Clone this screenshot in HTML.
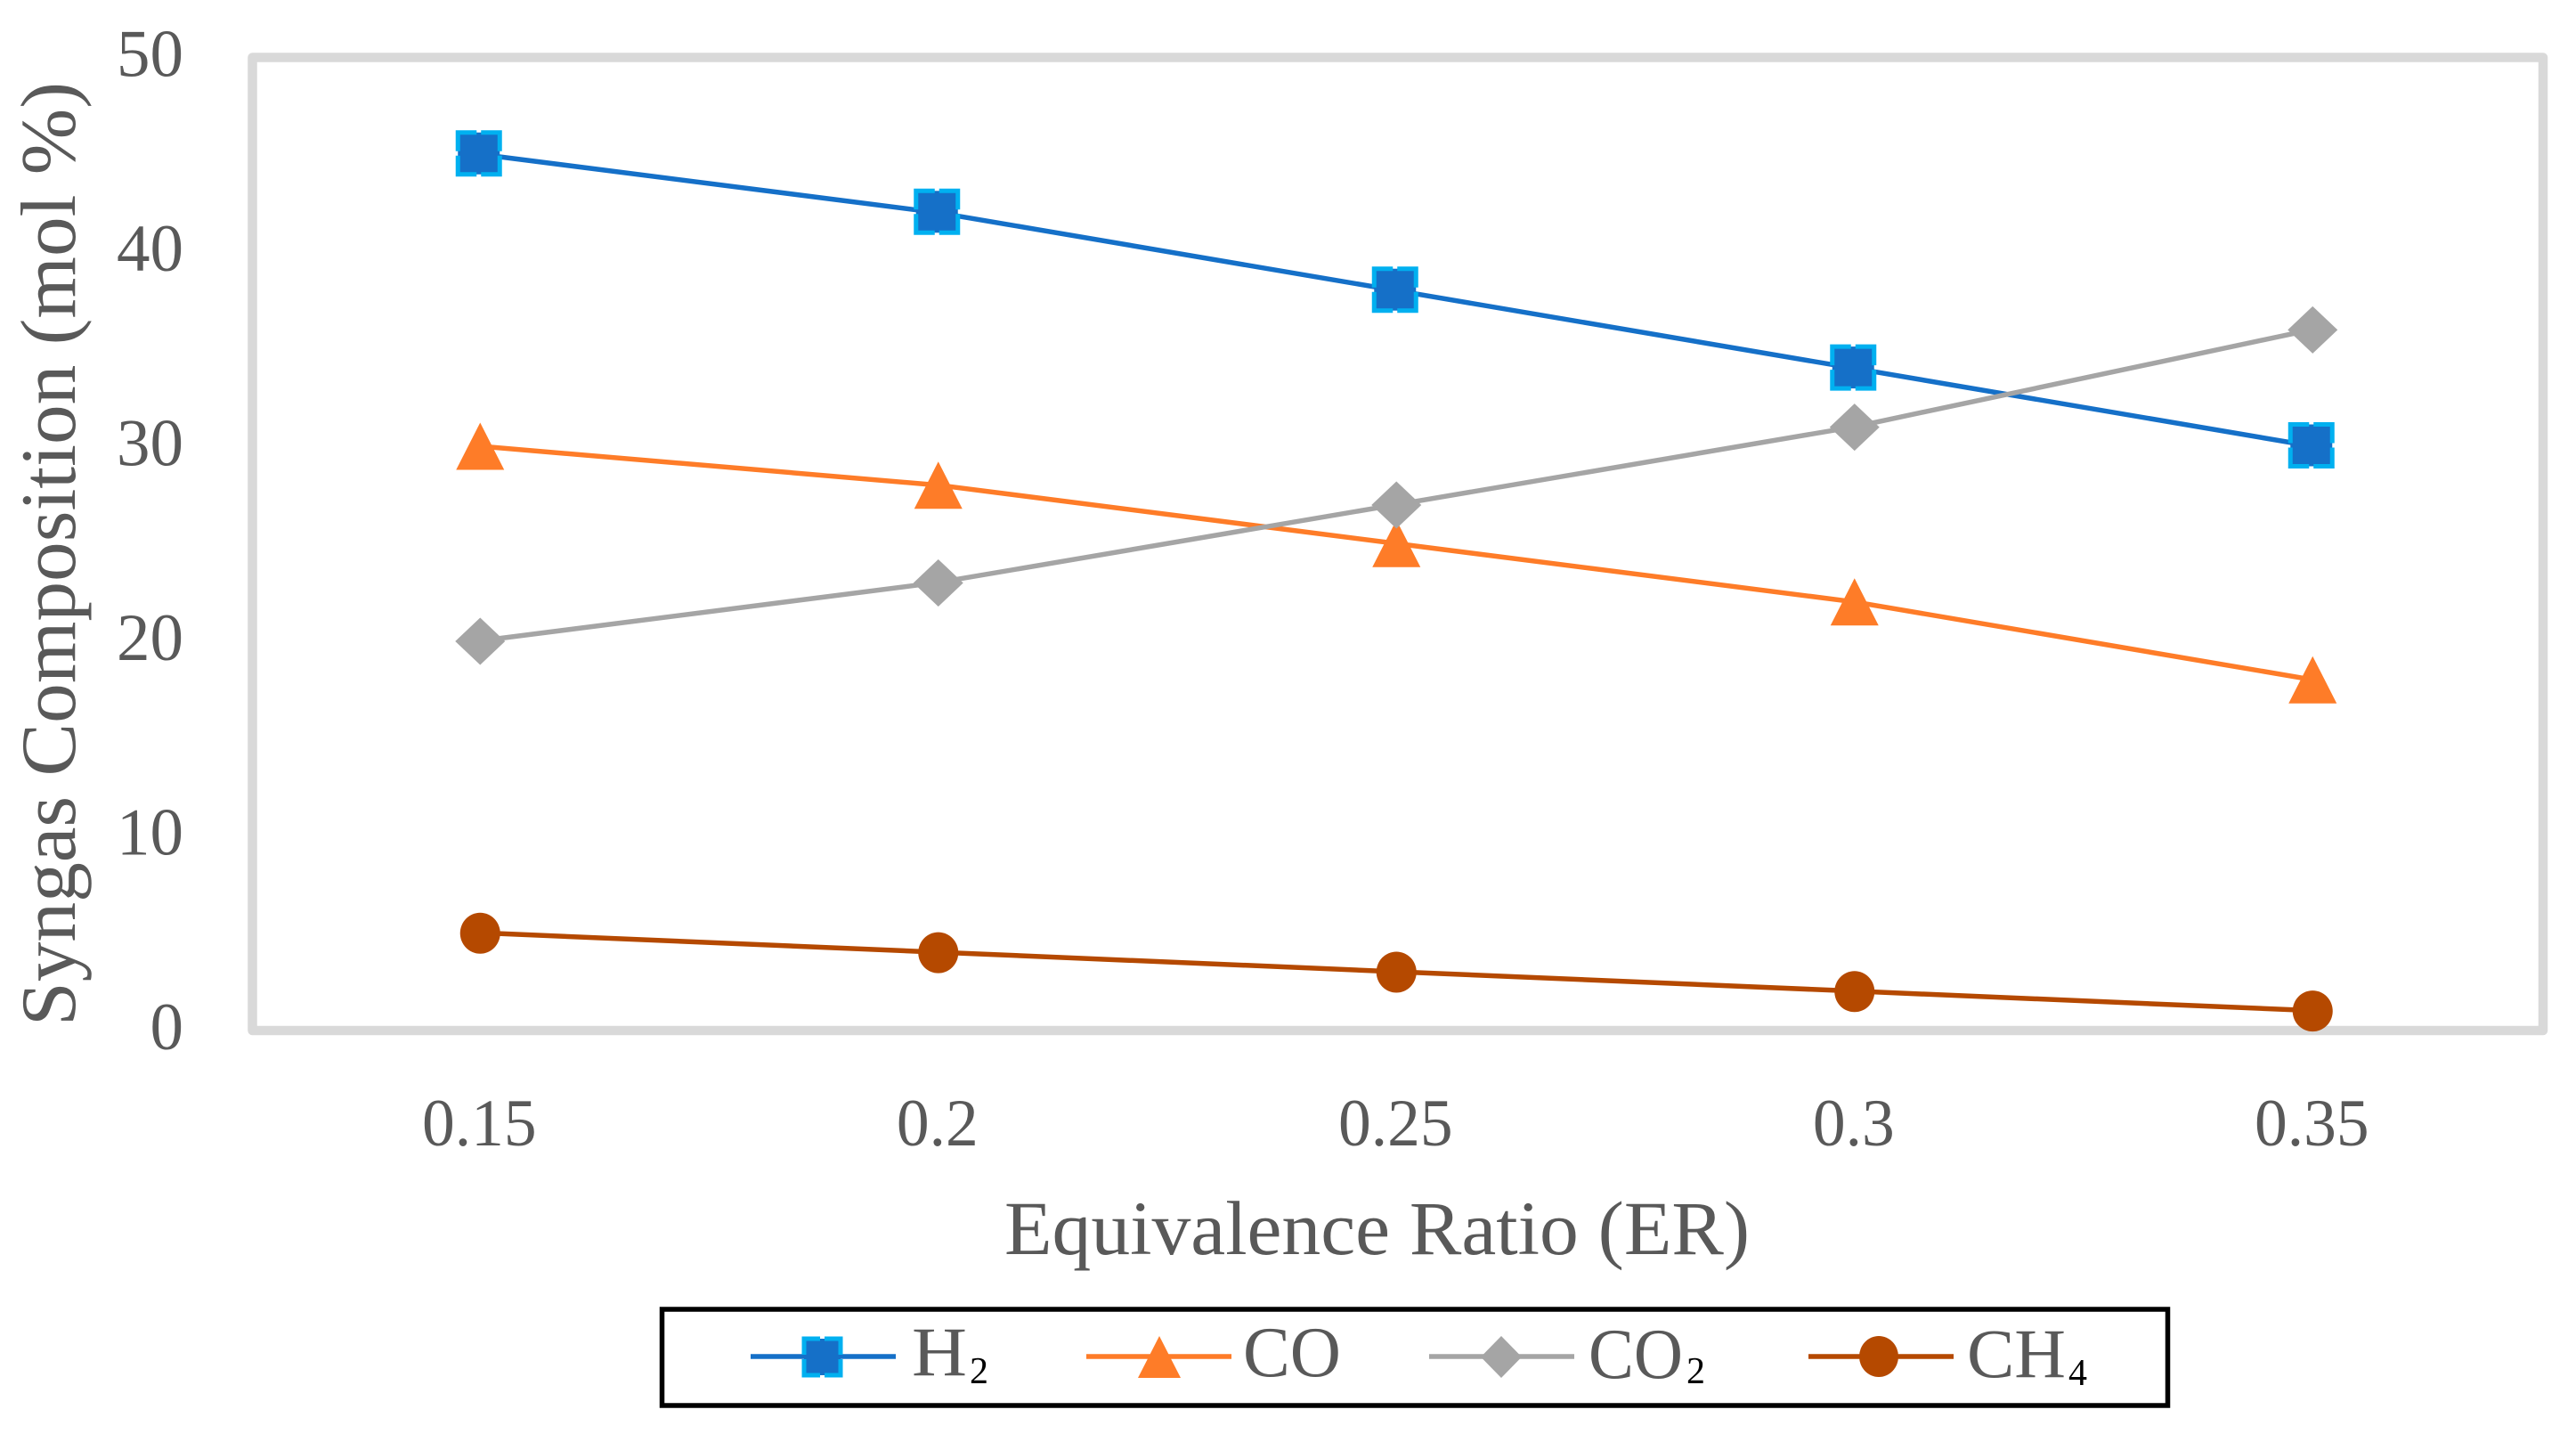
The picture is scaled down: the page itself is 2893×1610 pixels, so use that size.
<!DOCTYPE html>
<html lang="en">
<head>
<meta charset="utf-8">
<title>Syngas Composition vs Equivalence Ratio</title>
<style>
html,body{margin:0;padding:0;background:#fff;width:2893px;height:1610px;overflow:hidden}
svg{display:block}
text{font-family:"Liberation Serif",serif;fill:#595959}
</style>
</head>
<body>
<svg id="chart" xmlns="http://www.w3.org/2000/svg" width="2893" height="1610" viewBox="0 0 2893 1610">
  <rect x="283.5" y="64.5" width="2572.5" height="1092.5" fill="#fff" stroke="#d9d9d9" stroke-width="10.5" stroke-linejoin="round"/>
  <g id="y-ticks"></g>
  <g id="x-ticks"></g>
  <g id="series"></g>
  <text transform="translate(84,1152) rotate(-90)" font-size="88" textLength="1060" lengthAdjust="spacingAndGlyphs">Syngas Composition (mol %)</text>
  <text x="1128" y="1408" font-size="86" textLength="837" lengthAdjust="spacingAndGlyphs">Equivalence Ratio (ER)</text>
  <g>
    <rect x="743.5" y="1470" width="1691" height="108" fill="#fff" stroke="#000" stroke-width="5.5"/>
    <g>
      <line x1="843" y1="1523" x2="1006" y2="1523" stroke="#1570c8" stroke-width="5.5"/>
      <rect x="903" y="1503" width="41" height="41" fill="#1570c8" stroke="#00b0f0" stroke-width="5" stroke-dasharray="36 5" stroke-dashoffset="18"/>
      <text x="1024" y="1544" font-size="78" textLength="62" lengthAdjust="spacingAndGlyphs">H</text>
      <text x="1089" y="1553" font-size="42" style="fill:#000">2</text>
    </g>
    <g>
      <line x1="1220" y1="1523" x2="1383" y2="1523" stroke="#fe7c28" stroke-width="5.5"/>
      <polygon points="1302,1500 1326,1547 1278,1547" fill="#fe7c28"/>
      <text x="1396" y="1545" font-size="80" textLength="110" lengthAdjust="spacingAndGlyphs">CO</text>
    </g>
    <g>
      <line x1="1605" y1="1523" x2="1768" y2="1523" stroke="#a5a5a5" stroke-width="5.5"/>
      <polygon points="1686,1500 1709,1523.5 1686,1547 1663,1523.5" fill="#a5a5a5"/>
      <text x="1784" y="1547" font-size="80" textLength="106" lengthAdjust="spacingAndGlyphs">CO</text>
      <text x="1894" y="1553" font-size="42" style="fill:#000">2</text>
    </g>
    <g>
      <line x1="2031" y1="1523" x2="2194" y2="1523" stroke="#b54900" stroke-width="5.5"/>
      <ellipse cx="2110" cy="1523" rx="22" ry="23" fill="#b54900"/>
      <text x="2209" y="1546" font-size="78" textLength="111" lengthAdjust="spacingAndGlyphs">CH</text>
      <text x="2323" y="1555" font-size="42" style="fill:#000">4</text>
    </g>
  </g>
</svg>
<script>
var categories = ["0.15", "0.2", "0.25", "0.3", "0.35"];
var yTickLabels = [0, 10, 20, 30, 40, 50];
var h2Values = [45, 42, 38, 34, 30];
var coValues = [30, 28, 25, 22, 18];
var co2Values = [20, 23, 27, 31, 36];
var ch4Values = [5, 4, 3, 2, 1];

var NS = "http://www.w3.org/2000/svg";
var plotLeft = 283.5, plotWidth = 2572.5, plotTop = 64.5, plotBottom = 1157;
var yMin = 0, yMax = 50;

function xScale(i) {
  var band = plotWidth / categories.length;
  return plotLeft + band * (i + 0.5) - 1.5;
}
function yScale(v) {
  return plotBottom - (v - yMin) / (yMax - yMin) * (plotBottom - plotTop);
}
function make(tag, parent) {
  var el = document.createElementNS(NS, tag);
  parent.appendChild(el);
  return el;
}

var yTickGroup = document.getElementById("y-ticks");
yTickLabels.forEach(function (v) {
  var t = make("text", yTickGroup);
  
  
  t.setAttribute("x", 206);
  t.setAttribute("y", yScale(v) + 21);
  t.setAttribute("text-anchor", "end");
  t.setAttribute("font-size", 75);
  t.textContent = String(v);
});

var xTickGroup = document.getElementById("x-ticks");
categories.forEach(function (c, i) {
  var t = make("text", xTickGroup);
  
  
  t.setAttribute("x", xScale(i) - 1);
  t.setAttribute("y", 1286);
  t.setAttribute("text-anchor", "middle");
  t.setAttribute("font-size", 75);
  t.textContent = c;
  var w = t.getComputedTextLength();
  t.setAttribute("textLength", w * 0.98);
  t.setAttribute("lengthAdjust", "spacingAndGlyphs");
});

var seriesGroup = document.getElementById("series");

function drawMarker(g, kind, color, cx, cy) {
  var m;
  if (kind === "square") {
    m = make("rect", g);
    m.setAttribute("x", cx - 25);
    m.setAttribute("y", cy - 25);
    m.setAttribute("width", 47);
    m.setAttribute("height", 47);
    m.setAttribute("fill", color);
    m.setAttribute("stroke", "#00b0f0");
    m.setAttribute("stroke-width", 5);
    m.setAttribute("stroke-dasharray", "42 5");
    m.setAttribute("stroke-dashoffset", 21);
  } else if (kind === "triangle") {
    m = make("polygon", g);
    m.setAttribute("points", cx + "," + (cy - 27) + " " + (cx + 27) + "," + (cy + 26) + " " + (cx - 27) + "," + (cy + 26));
    m.setAttribute("fill", color);
  } else if (kind === "diamond") {
    m = make("polygon", g);
    m.setAttribute("points", cx + "," + (cy - 26.5) + " " + (cx + 28) + "," + cy + " " + cx + "," + (cy + 26.5) + " " + (cx - 28) + "," + cy);
    m.setAttribute("fill", color);
  } else {
    m = make("ellipse", g);
    m.setAttribute("cx", cx);
    m.setAttribute("cy", cy);
    m.setAttribute("rx", 22.5);
    m.setAttribute("ry", 23);
    m.setAttribute("fill", color);
  }
  
  
}

function drawSeries(name, values, color, kind) {
  var g = make("g", seriesGroup);
  
  
  var line = make("polyline", g);
  
  
  line.setAttribute("points", values.map(function (v, i) {
    return xScale(i) + "," + (yScale(v) - 0.5);
  }).join(" "));
  line.setAttribute("fill", "none");
  line.setAttribute("stroke", color);
  line.setAttribute("stroke-width", 5.5);
  line.setAttribute("stroke-linejoin", "round");
  values.forEach(function (v, i) {
    drawMarker(g, kind, color, xScale(i), yScale(v));
  });
}

drawSeries("series-h2", h2Values, "#1570c8", "square");
drawSeries("series-co", coValues, "#fe7c28", "triangle");
drawSeries("series-co2", co2Values, "#a5a5a5", "diamond");
drawSeries("series-ch4", ch4Values, "#b54900", "circle");
</script>
</body>
</html>
